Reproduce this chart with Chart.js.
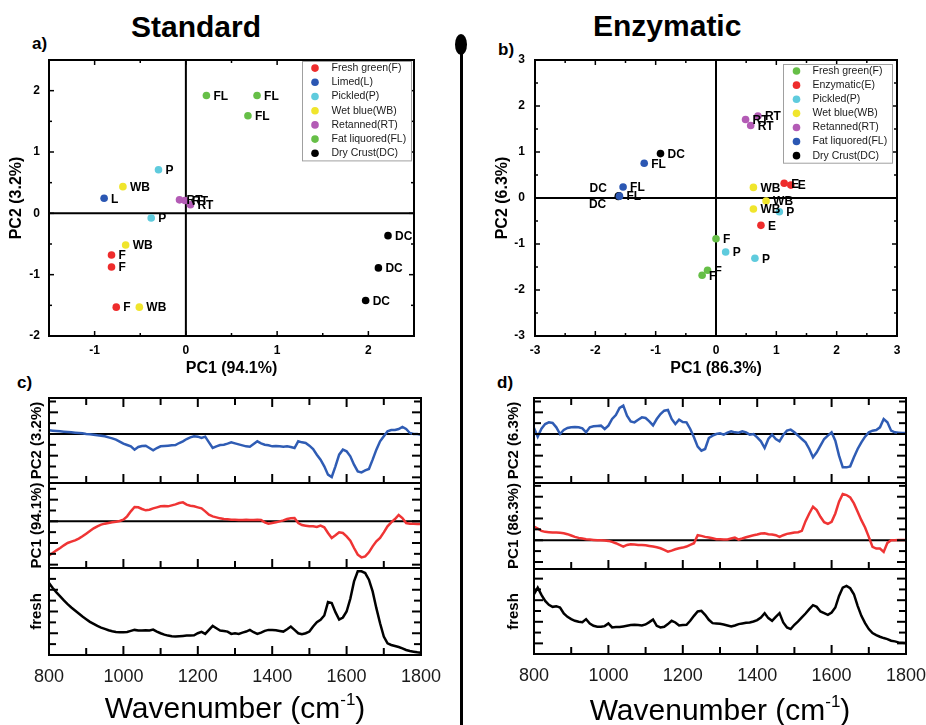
<!DOCTYPE html>
<html>
<head>
<meta charset="utf-8">
<script src="https://cdn.jsdelivr.net/npm/chart.js@4.4.1/dist/chart.umd.min.js"></script>
<style>
  body { margin: 0; background: #fff; }
  #page { position: relative; width: 926px; height: 725px; overflow: hidden; font-family: "Liberation Sans", Arial, sans-serif; color: #000; }
  #page canvas { position: absolute; }
  .txt { position: absolute; white-space: nowrap; line-height: 1; }
  .head { font-size: 30px; font-weight: bold; }
  .tag { font-size: 17px; font-weight: bold; }
  .wn { font-size: 30px; width: 400px; text-align: center; }
  .wn span { font-size: 17px; position: relative; top: -13px; }
</style>
<script>
// ---- score plots (PCA) ----
var stdGroups = ['Fresh green(F)', 'Limed(L)', 'Pickled(P)', 'Wet blue(WB)', 'Retanned(RT)', 'Fat liquored(FL)', 'Dry Crust(DC)'];
var stdTags = ['F', 'L', 'P', 'WB', 'RT', 'FL', 'DC'];
var stdScorePC1 = [[-0.815, -0.815, -0.763], [-0.896], [-0.30, -0.38], [-0.69, -0.66, -0.51], [-0.07, -0.01, 0.05], [0.225, 0.78, 0.68], [2.215, 2.11, 1.97]];
var stdScorePC2 = [[-0.68, -0.875, -1.53], [0.245], [0.71, -0.076], [0.435, -0.516, -1.53], [0.22, 0.21, 0.14], [1.92, 1.92, 1.59], [-0.364, -0.89, -1.42]];

var enzGroups = ['Fresh green(F)', 'Enzymatic(E)', 'Pickled(P)', 'Wet blue(WB)', 'Retanned(RT)', 'Fat liquored(FL)', 'Dry Crust(DC)'];
var enzTags = ['F', 'E', 'P', 'WB', 'RT', 'FL', 'DC'];
var enzScorePC1 = [[0.0, -0.14, -0.23], [1.13, 1.24, 0.745], [0.16, 0.645, 1.05], [0.62, 0.83, 0.62], [0.49, 0.575, 0.695], [-1.19, -1.54, -1.60], [-0.92, -1.61, -1.62]];
var enzScorePC2 = [[-0.885, -1.57, -1.68], [0.32, 0.28, -0.595], [-1.175, -1.31, -0.30], [0.23, -0.065, -0.24], [1.705, 1.575, 1.78], [0.755, 0.24, 0.04], [0.965, 0.05, 0.035]];

var stdXTicks = [-1, 0, 1, 2];
var stdYTicks = [-2, -1, 0, 1, 2];
var enzXTicks = [-3, -2, -1, 0, 1, 2, 3];
var enzYTicks = [-3, -2, -1, 0, 1, 2, 3];

// ---- loading spectra (arbitrary units) ----
var wavenumbers = [800, 810, 820, 830, 840, 850, 860, 870, 880, 890,
  900, 910, 920, 930, 940, 950, 960, 970, 980, 990,
  1000, 1010, 1020, 1030, 1040, 1050, 1060, 1070, 1080, 1090,
  1100, 1110, 1120, 1130, 1140, 1150, 1160, 1170, 1180, 1190,
  1200, 1210, 1220, 1230, 1240, 1250, 1260, 1270, 1280, 1290,
  1300, 1310, 1320, 1330, 1340, 1350, 1360, 1370, 1380, 1390,
  1400, 1410, 1420, 1430, 1440, 1450, 1460, 1470, 1480, 1490,
  1500, 1510, 1520, 1530, 1540, 1550, 1560, 1570, 1580, 1590,
  1600, 1610, 1620, 1630, 1640, 1650, 1660, 1670, 1680, 1690,
  1700, 1710, 1720, 1730, 1740, 1750, 1760, 1770, 1780, 1790, 1800];
var wnTicks = [800, 1000, 1200, 1400, 1600, 1800];

var stdPC2 = [11, 10, 9, 8, 7, 6, 5, 4, 3, 2,
  0, -1, -2, -4, -5, -7, -10, -13, -17, -23,
  -29, -33, -37, -47, -39, -36, -35, -42, -49, -42,
  -37, -36, -35, -34, -33, -27, -22, -15, -10, -7,
  -8, -12, -8, -25, -42, -37, -33, -32, -29, -25,
  -28, -31, -34, -37, -38, -30, -22, -28, -32, -34,
  -37, -36, -37, -38, -37, -39, -42, -22, -25, -27,
  -35, -45, -62, -77, -97, -122, -129, -97, -62, -47,
  -52, -67, -92, -112, -115, -109, -105, -77, -47, -22,
  -7, 8, 12, 12, 15, 21, 15, 3, 0, 0, -2];
var stdPC1 = [-102, -95, -87, -80, -72, -65, -61, -57, -52, -45,
  -37, -29, -21, -15, -10, -7, -5, -3, -1, 1,
  5, 15, 30, 43, 42, 37, 33, 35, 39, 42,
  45, 46, 45, 48, 51, 55, 57, 50, 47, 45,
  42, 39, 30, 20, 15, 12, 9, 7, 6, 5,
  5, 4, 4, 5, 4, 4, 5, 4, -3, -7,
  -5, -3, 0, 3, 7, 9, 10, -5, -11, -13,
  -15, -15, -17, -13, -18, -35, -50, -42, -33, -35,
  -45, -58, -80, -100, -108, -105, -93, -75, -60, -50,
  -33, -15, -3, 7, 19, 10, -5, -7, -7, -8, -8];
var stdFresh = [215, 200, 187, 175, 163, 152, 142, 133, 124, 115,
  107, 99, 93, 87, 82, 78, 74, 71, 69, 68,
  68, 69, 72, 75, 73, 73, 74, 73, 76, 70,
  65, 61, 58, 56, 55, 56, 57, 58, 58, 59,
  65, 69, 63, 75, 87, 80, 73, 72, 70, 63,
  65, 63, 67, 70, 75, 68, 63, 67, 72, 75,
  75, 74, 72, 70, 77, 85, 75, 65, 62, 65,
  70, 85, 98, 105, 118, 158, 155, 128, 106, 112,
  130, 168, 220, 250, 250, 245, 225, 190, 140, 95,
  55, 35, 30, 27, 24, 20, 15, 12, 10, 8, 7];

var enzPC2 = [18, -8, 16, 30, 35, 33, 20, 0, 12, 18,
  20, 21, 20, 17, 5, 20, 23, 24, 25, 15,
  25, 45, 57, 78, 85, 55, 38, 35, 43, 50,
  48, 38, 26, 45, 60, 70, 72, 45, 30, 43,
  36, 35, 15, -10, -38, -50, -45, -12, -5, 0,
  2, -2, 4, 8, 5, 4, 8, 5, -2, 0,
  -10, -22, -42, -15, -2, -15, -22, -3, 10, 13,
  5, -5, -15, -25, -45, -70, -55, -35, -15, -5,
  5, -20, -65, -100, -100, -97, -70, -45, -25, -8,
  5, 10, 12, 20, 45, 35, 10, 5, 4, 3, 3];
var enzPC1 = [41, 35, 28, 25, 24, 23, 23, 22, 21, 18,
  14, 10, 7, 5, 3, 2, 1, 0, 0, -1,
  -2, -5, -9, -14, -19, -14, -12, -13, -14, -14,
  -15, -17, -19, -21, -24, -29, -34, -31, -27, -24,
  -22, -19, -14, -9, 15, 13, 10, 8, 6, 3,
  3, 2, 2, 5, 8, 2, 5, 9, 12, 15,
  17, 20, 21, 18, 17, 15, 10, 15, 19, 21,
  23, 24, 28, 57, 80, 100, 90, 70, 54, 49,
  55, 80, 115, 138, 135, 128, 110, 85, 60, 38,
  10, -20, -25, -25, -35, -8, 0, 0, 1, 1, 1];
var enzFresh = [180, 200, 178, 160, 148, 142, 144, 140, 122, 112,
  105, 100, 97, 96, 105, 92, 85, 82, 82, 84,
  92, 80, 81, 81, 83, 85, 87, 88, 87, 86,
  89, 96, 104, 85, 80, 82, 90, 100, 95, 86,
  87, 88, 100, 115, 128, 130, 118, 103, 93, 92,
  91, 89, 86, 83, 86, 90, 92, 94, 95, 98,
  102, 110, 123, 108, 100, 112, 123, 95, 80, 75,
  88, 98, 110, 122, 135, 147, 142, 128, 123, 118,
  125, 140, 175, 200, 205, 198, 180, 145, 115, 93,
  75, 63, 57, 52, 48, 45, 40, 38, 35, 34, 33];

// ---- styles ----
var FONT = '"Liberation Sans", Arial, sans-serif';
var stdColors = ['#ee2c2c', '#2b57b3', '#5fcbdd', '#f0e52c', '#b35bb5', '#66bf47', '#000000'];
var enzColors = ['#66bf47', '#ee2c2c', '#5fcbdd', '#f0e52c', '#b35bb5', '#2b57b3', '#000000'];
// labels that sit left of their point in the enzymatic plot
var enzTagNudge = { DC: [null, {dx: -12, dy: -7, align: 'right'}, {dx: -12, dy: 8, align: 'right'}] };

function markList(min, max, step, base) {
  var out = [];
  var k0 = Math.ceil((min - base) / step - 1e-6);
  var k1 = Math.floor((max - base) / step + 1e-6);
  for (var k = k0; k <= k1; k++) out.push({v: base + k * step, major: ((k % 2) + 2) % 2 === 0});
  return out;
}

function seg(ctx, x1, y1, x2, y2) {
  ctx.beginPath(); ctx.moveTo(x1, y1); ctx.lineTo(x2, y2); ctx.stroke();
}

// box frame, inward tick marks and zero lines
var frameTicks = {
  id: 'frameTicks',
  beforeDatasetsDraw: function(chart, args, o) {
    var ctx = chart.ctx, a = chart.chartArea, x = chart.scales.x, y = chart.scales.y;
    ctx.save();
    ctx.strokeStyle = '#000';
    ctx.lineWidth = o.zeroWidth;
    if (o.zeroX) { var px = x.getPixelForValue(0); seg(ctx, px, a.top, px, a.bottom); }
    if (o.zeroY) { var py = y.getPixelForValue(0); seg(ctx, a.left, py, a.right, py); }
    ctx.restore();
  },
  afterDatasetsDraw: function(chart, args, o) {
    var ctx = chart.ctx, a = chart.chartArea, x = chart.scales.x, y = chart.scales.y;
    ctx.save();
    ctx.strokeStyle = '#000';
    ctx.lineWidth = o.tickWidth;
    markList(x.min, x.max, o.xStep, o.xBase).forEach(function(t) {
      var px = x.getPixelForValue(t.v);
      if (px < a.left + 1.5 || px > a.right - 1.5) return;
      var L = t.major ? o.xMajor : o.xMinor;
      if (o.bottom) seg(ctx, px, a.bottom, px, a.bottom - L);
      if (o.top) seg(ctx, px, a.top, px, a.top + L);
    });
    markList(y.min, y.max, o.yStep, o.yBase).forEach(function(t) {
      var py = y.getPixelForValue(t.v);
      if (py < a.top + 1.5 || py > a.bottom - 1.5) return;
      var L = t.major ? o.yMajor : o.yMinor;
      seg(ctx, a.left, py, a.left + L, py);
      seg(ctx, a.right, py, a.right - L, py);
    });
    ctx.lineWidth = o.frameWidth;
    ctx.strokeRect(a.left, a.top, a.right - a.left, a.bottom - a.top);
    ctx.restore();
  }
};

// group letter next to each score point
var pointTags = {
  id: 'pointTags',
  afterDatasetsDraw: function(chart, args, o) {
    var ctx = chart.ctx;
    ctx.save();
    ctx.font = o.font;
    ctx.fillStyle = '#000';
    ctx.textBaseline = 'middle';
    chart.data.datasets.forEach(function(ds, i) {
      var nudges = ds.tagNudge || [];
      chart.getDatasetMeta(i).data.forEach(function(pt, j) {
        var n = nudges[j] || {dx: 7, dy: 1, align: 'left'};
        ctx.textAlign = n.align;
        ctx.fillText(ds.tag, pt.x + n.dx, pt.y + n.dy);
      });
    });
    ctx.restore();
  }
};

// boxed legend inside the top right corner
var legendBox = {
  id: 'legendBox',
  afterDatasetsDraw: function(chart, args, o) {
    var ctx = chart.ctx, a = chart.chartArea;
    var n = chart.data.datasets.length;
    var x0 = a.right - o.right - o.width, y0 = a.top + o.top;
    var h = n * o.rowHeight;
    ctx.save();
    ctx.fillStyle = '#fff';
    ctx.fillRect(x0, y0, o.width, h);
    ctx.strokeStyle = '#a0a0a0';
    ctx.lineWidth = 1;
    ctx.strokeRect(x0 + 0.5, y0 + 0.5, o.width, h);
    ctx.font = o.font;
    ctx.textBaseline = 'middle';
    ctx.textAlign = 'left';
    chart.data.datasets.forEach(function(ds, i) {
      var cy = y0 + o.rowHeight * (i + 0.5);
      ctx.fillStyle = ds.backgroundColor;
      ctx.beginPath(); ctx.arc(x0 + o.markerX, cy, 3.8, 0, 2 * Math.PI); ctx.fill();
      ctx.fillStyle = '#1a1a1a';
      ctx.fillText(ds.label, x0 + o.textX, cy);
    });
    ctx.restore();
  }
};

function scoreChart(id, c) {
  var datasets = c.groups.map(function(g, i) {
    return {
      label: g,
      tag: c.tags[i],
      tagNudge: (c.nudge || {})[c.tags[i]],
      data: c.pc1[i].map(function(v, j) { return {x: v, y: c.pc2[i][j]}; }),
      backgroundColor: c.colors[i],
      borderWidth: 0,
      pointRadius: 3.8,
      pointHoverRadius: 3.8
    };
  });
  return new Chart(document.getElementById(id), {
    type: 'scatter',
    data: {datasets: datasets},
    plugins: [frameTicks, pointTags, legendBox],
    options: {
      responsive: false, animation: false, events: [],
      layout: {padding: c.padding, autoPadding: false},
      plugins: {
        legend: {display: false}, tooltip: {enabled: false},
        frameTicks: {zeroX: true, zeroY: true, zeroWidth: 2, tickWidth: 1.5, frameWidth: 2,
          xStep: 0.5, xBase: 0, yStep: 0.5, yBase: 0, xMajor: 5, xMinor: 3, yMajor: 5, yMinor: 3,
          top: true, bottom: true},
        pointTags: {font: 'bold 12px ' + FONT},
        legendBox: c.legend
      },
      scales: {
        x: {
          type: 'linear', min: c.xMin, max: c.xMax,
          afterBuildTicks: function(s) { s.ticks = c.xTicks.map(function(v) { return {value: v}; }); },
          afterFit: function(s) { s.height = 44; s.paddingLeft = 0; s.paddingRight = 0; },
          grid: {display: false, drawTicks: false}, border: {display: false},
          ticks: {color: '#000', font: {family: FONT, size: 12, weight: 'bold'}, padding: 7, maxRotation: 0,
            callback: function(v) { return String(v); }},
          title: {display: true, text: c.xTitle, color: '#000', font: {family: FONT, size: 16, weight: 'bold'},
            padding: {top: 0, bottom: 2}}
        },
        y: {
          type: 'linear', min: c.yMin, max: c.yMax,
          afterBuildTicks: function(s) { s.ticks = c.yTicks.map(function(v) { return {value: v}; }); },
          afterFit: function(s) { s.width = c.axisW; s.paddingTop = 0; s.paddingBottom = 0; },
          grid: {display: false, drawTicks: false}, border: {display: false},
          ticks: {color: '#000', font: {family: FONT, size: 12, weight: 'bold'}, padding: c.tickPad,
            callback: function(v) { return String(v); }},
          title: {display: true, text: c.yTitle, color: '#000', font: {family: FONT, size: 16, weight: 'bold'},
            padding: {top: c.titlePad, bottom: 0}}
        }
      }
    }
  });
}

function spectrumChart(id, c) {
  return new Chart(document.getElementById(id), {
    type: 'line',
    data: {datasets: [{
      data: wavenumbers.map(function(w, i) { return {x: w, y: c.values[i]}; }),
      borderColor: c.color, borderWidth: 2.5, pointRadius: 0, tension: 0, fill: false
    }]},
    plugins: [frameTicks],
    options: {
      responsive: false, animation: false, events: [],
      layout: {padding: {left: 0, right: c.padRight, top: 12, bottom: c.showX ? 0 : 12}, autoPadding: false},
      plugins: {
        legend: {display: false}, tooltip: {enabled: false},
        frameTicks: {zeroX: false, zeroY: c.zero, zeroWidth: 2, tickWidth: 2, frameWidth: 2,
          xStep: 100, xBase: 800, yStep: 32.5, yBase: c.tickBase, xMajor: 9, xMinor: 7, yMajor: 9, yMinor: 7,
          top: c.topTicks, bottom: true}
      },
      scales: {
        x: {
          type: 'linear', min: 800, max: 1800, display: c.showX,
          afterBuildTicks: function(s) { s.ticks = wnTicks.map(function(v) { return {value: v}; }); },
          afterFit: function(s) { s.height = c.showX ? 40 : 0; s.paddingLeft = 0; s.paddingRight = 0; },
          grid: {display: false, drawTicks: false}, border: {display: false},
          ticks: {color: '#1a1a1a', font: {family: FONT, size: 18}, padding: 11, maxRotation: 0,
            callback: function(v) { return String(v); }}
        },
        y: {
          type: 'linear', min: c.yMin, max: c.yMax,
          afterFit: function(s) { s.width = c.axisW; s.paddingTop = 0; s.paddingBottom = 0; },
          grid: {display: false, drawTicks: false}, border: {display: false},
          ticks: {display: false},
          title: {display: true, text: c.title, color: '#000', font: {family: FONT, size: 15, weight: 'bold'},
            padding: {top: c.titlePad, bottom: 0}}
        }
      }
    }
  });
}

function init() {
  scoreChart('scoreStd', {
    groups: stdGroups, tags: stdTags, pc1: stdScorePC1, pc2: stdScorePC2, colors: stdColors,
    xMin: -1.5, xMax: 2.5, yMin: -2, yMax: 2.5, xTicks: stdXTicks, yTicks: stdYTicks,
    xTitle: 'PC1 (94.1%)', yTitle: 'PC2 (3.2%)',
    padding: {left: 0, top: 20, right: 46, bottom: 0}, axisW: 49, tickPad: 9, titlePad: 7,
    legend: {width: 109, rowHeight: 14.2, right: 3, top: 1, markerX: 13, textX: 29.5, font: '10.5px ' + FONT}
  });
  scoreChart('scoreEnz', {
    groups: enzGroups, tags: enzTags, pc1: enzScorePC1, pc2: enzScorePC2, colors: enzColors, nudge: enzTagNudge,
    xMin: -3, xMax: 3, yMin: -3, yMax: 3, xTicks: enzXTicks, yTicks: enzYTicks,
    xTitle: 'PC1 (86.3%)', yTitle: 'PC2 (6.3%)',
    padding: {left: 0, top: 20, right: 29, bottom: 0}, axisW: 65, tickPad: 10, titlePad: 23,
    legend: {width: 109, rowHeight: 14.1, right: 5, top: 4, markerX: 13.5, textX: 29.5, font: '10.5px ' + FONT}
  });

  spectrumChart('stdPC2c', {values: stdPC2, color: '#2f5cb4', yMin: -147, yMax: 108, zero: true, tickBase: 0,
    topTicks: true, showX: false, title: 'PC2 (3.2%)', axisW: 49, padRight: 39, titlePad: 28});
  spectrumChart('stdPC1c', {values: stdPC1, color: '#ef3434', yMin: -140, yMax: 115, zero: true, tickBase: 0,
    topTicks: false, showX: false, title: 'PC1 (94.1%)', axisW: 49, padRight: 39, titlePad: 28});
  spectrumChart('stdFreshc', {values: stdFresh, color: '#000000', yMin: 0, yMax: 260, zero: false, tickBase: 0,
    topTicks: false, showX: true, title: 'fresh', axisW: 49, padRight: 39, titlePad: 28});

  spectrumChart('enzPC2c', {values: enzPC2, color: '#2f5cb4', yMin: -147, yMax: 108, zero: true, tickBase: 0,
    topTicks: true, showX: false, title: 'PC2 (6.3%)', axisW: 64, padRight: 20, titlePad: 35});
  spectrumChart('enzPC1c', {values: enzPC1, color: '#ef3434', yMin: -86, yMax: 171, zero: true, tickBase: 0,
    topTicks: false, showX: false, title: 'PC1 (86.3%)', axisW: 64, padRight: 20, titlePad: 35});
  spectrumChart('enzFreshc', {values: enzFresh, color: '#000000', yMin: 0, yMax: 256, zero: false, tickBase: 32,
    topTicks: false, showX: true, title: 'fresh', axisW: 64, padRight: 20, titlePad: 35});
}
</script>
</head>
<body onload="init()">
<div id="page">
  <div class="txt head" style="left:131px;top:12px">Standard</div>
  <div class="txt head" style="left:593px;top:11px">Enzymatic</div>
  <div class="txt tag" style="left:32px;top:35px">a)</div>
  <div class="txt tag" style="left:498px;top:41px">b)</div>
  <div class="txt tag" style="left:17px;top:374px">c)</div>
  <div class="txt tag" style="left:497px;top:374px">d)</div>

  <div style="position:absolute;left:459.5px;top:54px;width:3px;height:671px;background:#000"></div>
  <div style="position:absolute;left:455px;top:33.5px;width:12px;height:21px;border-radius:50%;background:#000"></div>

  <canvas id="scoreStd" width="460" height="340" style="left:0;top:40px"></canvas>
  <canvas id="scoreEnz" width="456" height="340" style="left:470px;top:40px"></canvas>

  <canvas id="stdPC2c" width="460" height="109" style="left:0;top:386px"></canvas>
  <canvas id="stdPC1c" width="460" height="109" style="left:0;top:471px"></canvas>
  <canvas id="stdFreshc" width="460" height="139" style="left:0;top:556px"></canvas>
  <canvas id="enzPC2c" width="456" height="109" style="left:470px;top:386px"></canvas>
  <canvas id="enzPC1c" width="456" height="110" style="left:470px;top:471px"></canvas>
  <canvas id="enzFreshc" width="456" height="137" style="left:470px;top:557px"></canvas>

  <div class="txt wn" style="left:35px;top:693px">Wavenumber (cm<span>-1</span>)</div>
  <div class="txt wn" style="left:520px;top:695px">Wavenumber (cm<span>-1</span>)</div>
</div>
</body>
</html>
